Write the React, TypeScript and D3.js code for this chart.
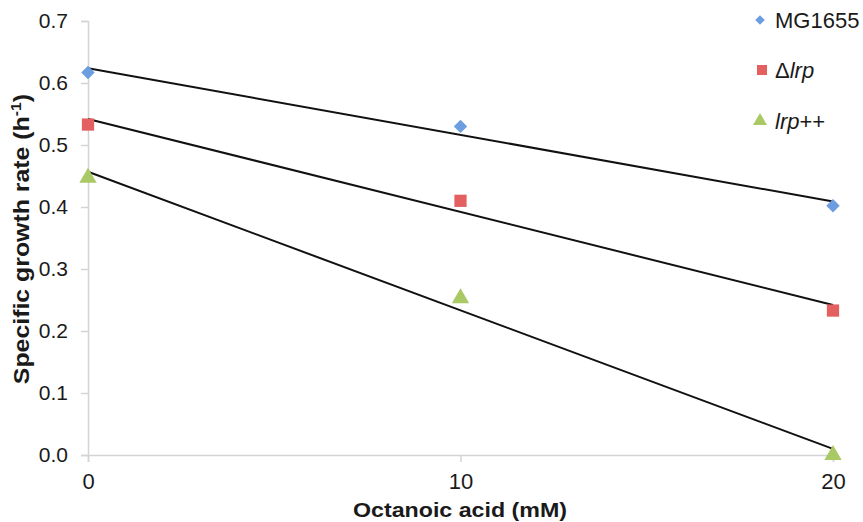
import React, { useEffect, useRef } from 'react';
import * as d3 from 'd3';

// x values (mM octanoic acid)
const concentrations = [0, 10, 20];

// specific growth rates (h-1)
const mg1655 = [0.617, 0.53, 0.402];
const deltaLrp = [0.533, 0.41, 0.233];
const lrpPlus = [0.447, 0.253, 0.0];

const yTicks = [0, 0.1, 0.2, 0.3, 0.4, 0.5, 0.6, 0.7];
const xTicks = [0, 10, 20];

const seriesNames = ['MG1655', 'Δlrp', 'lrp++'];

const W = 863;
const H = 522;
const margin = { top: 21, right: 30, bottom: 67, left: 88 };

const App: React.FC = () => {
  const svgRef = useRef<SVGSVGElement>(null);

  useEffect(() => {
    const svg = d3.select(svgRef.current);
    svg.selectAll('*').remove();

    const x = d3.scaleLinear().domain([0, 20]).range([margin.left, W - margin.right]);
    const y = d3.scaleLinear().domain([0, 0.7]).range([H - margin.bottom, margin.top]);

    const axisColor = '#d4d4d4';
    const font = 'Liberation Sans, Arial, sans-serif';

    // Y axis
    const yAxis = svg.append('g')
      .attr('transform', `translate(${margin.left},0)`)
      .call(d3.axisLeft(y).tickValues(yTicks).tickFormat(d3.format('.1f')).tickSizeOuter(0).tickSize(7).tickPadding(13));
    yAxis.select('.domain').attr('stroke', axisColor).attr('stroke-width', 1.5);
    yAxis.selectAll('.tick line').attr('stroke', axisColor).attr('stroke-width', 1.5);
    yAxis.selectAll('.tick text')
      .attr('font-family', font)
      .attr('font-size', 21)
      .attr('fill', '#1a1a1a');

    // X axis
    const xAxis = svg.append('g')
      .attr('transform', `translate(0,${H - margin.bottom})`)
      .call(d3.axisBottom(x).tickValues(xTicks).tickFormat(d3.format('d')).tickSizeOuter(0).tickSize(7).tickPadding(11));
    xAxis.select('.domain').attr('stroke', axisColor).attr('stroke-width', 1.5);
    xAxis.selectAll('.tick line').attr('stroke', axisColor).attr('stroke-width', 1.5);
    xAxis.selectAll('.tick text')
      .attr('font-family', font)
      .attr('font-size', 22)
      .attr('fill', '#1a1a1a');

    // Axis titles
    svg.append('text')
      .attr('x', 460)
      .attr('y', 517)
      .attr('text-anchor', 'middle')
      .attr('font-family', font)
      .attr('font-weight', 'bold')
      .attr('font-size', 20)
      .attr('textLength', 214)
      .attr('lengthAdjust', 'spacingAndGlyphs')
      .attr('fill', '#1a1a1a')
      .text('Octanoic acid (mM)');

    const yTitle = svg.append('text')
      .attr('transform', `translate(29,239) rotate(-90) scale(1.13,1)`)
      .attr('text-anchor', 'middle')
      .attr('font-family', font)
      .attr('font-weight', 'bold')
      .attr('font-size', 22)
      .attr('fill', '#1a1a1a');
    yTitle.append('tspan').text('Specific growth rate (h');
    yTitle.append('tspan').attr('dy', -8).attr('font-size', 14).text('-1');
    yTitle.append('tspan').attr('dy', 8).text(')');

    const all = [mg1655, deltaLrp, lrpPlus];
    const colors = ['#6b9de0', '#e45f5f', '#a9c964'];
    const symbols = [d3.symbolSquare, d3.symbolSquare, d3.symbolTriangle];
    const sizes = [90, 150, 130];

    // Linear trendlines (least squares fit of each series)
    all.forEach(vals => {
      const mx = d3.mean(concentrations)!;
      const my = d3.mean(vals)!;
      const sxy = d3.sum(concentrations, (c, i) => (c - mx) * (vals[i] - my));
      const sxx = d3.sum(concentrations, c => (c - mx) * (c - mx));
      const slope = sxy / sxx;
      const icpt = my - slope * mx;
      const ends = [0, 20];
      svg.append('path')
        .datum(ends)
        .attr('fill', 'none')
        .attr('stroke', '#111')
        .attr('stroke-width', 2)
        .attr('d', d3.line<number>().x(d => x(d)).y(d => y(icpt + slope * d)));
    });

    // Markers
    all.forEach((vals, si) => {
      svg.append('g').selectAll('path')
        .data(vals)
        .enter().append('path')
        .attr('transform', (d, i) => `translate(${x(concentrations[i])},${y(d)})${si === 0 ? ' rotate(45)' : ''}`)
        .attr('d', d3.symbol().type(symbols[si]).size(sizes[si])())
        .attr('fill', colors[si]);
    });

    // Legend
    const legend = svg.append('g');
    const legendY = [20, 70, 121];
    seriesNames.forEach((name, i) => {
      const ly = legendY[i];
      legend.append('path')
        .attr('transform', `translate(${i === 1 ? 762 : 760},${ly})${i === 0 ? ' rotate(45)' : ''}`)
        .attr('d', d3.symbol().type(symbols[i]).size(i === 0 ? 45 : i === 1 ? 100 : 85)())
        .attr('fill', colors[i]);
      const t = legend.append('text')
        .attr('x', 775)
        .attr('y', ly + 8)
        .attr('font-family', font)
        .attr('font-size', 22)
        .attr('fill', '#1a1a1a');
      if (name === 'Δlrp') {
        t.append('tspan').text('Δ');
        t.append('tspan').attr('font-style', 'italic').text('lrp');
      } else if (name === 'lrp++') {
        t.append('tspan').attr('font-style', 'italic').text('lrp');
        t.append('tspan').text('++');
      } else {
        t.text(name);
      }
    });
  }, []);

  return (
    <svg
      ref={svgRef}
      width={W}
      height={H}
      style={{ position: 'absolute', top: 0, left: 0, background: '#fff' }}
    />
  );
};

export default App;
